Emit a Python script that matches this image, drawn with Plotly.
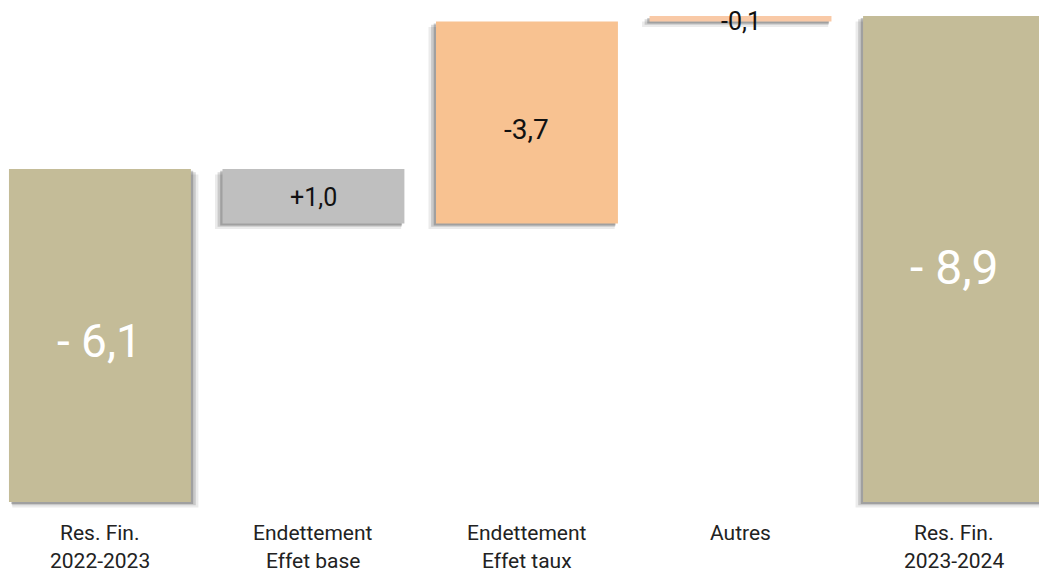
import plotly.graph_objects as go

categories_line1 = ["Res. Fin.", "Endettement", "Endettement", "Autres", "Res. Fin."]
categories_line2 = ["2022-2023", "Effet base", "Effet taux", "", "2023-2024"]
values = [-6.1, 1.0, -3.7, -0.1, -8.9]
kinds = ["total", "relative", "relative", "relative", "total"]
value_labels = ["- 6,1", "+1,0", "-3,7", "-0,1", "- 8,9"]

colors = ["#C4BC98", "#BFBFBF", "#F8C291", "#F9C9A6", "#C4BC98"]
label_colors = ["white", "#111111", "#111111", "#111111", "white"]
label_sizes = [46, 25, 28, 25, 48]
label_shift = [-6, -1, -7, -3, -8]

# compute bases / heights from the data
bases, heights = [], []
cum = 0.0
for v, k in zip(values, kinds):
    if k == "total":
        bases.append(0.0)
        cum = v
    else:
        bases.append(cum)
        cum = cum + v
    heights.append(v)

x = list(range(len(values)))
W = 0.852
FONT = "Roboto"
TICKFONT = "Roboto"

fig = go.Figure()

# soft drop shadows
shadow_dx = [0.018 if i == 0 else -0.018 for i in x]
for dy, dx_scale, alpha, extra in [(0.10, 1.4, 0.08, 0.02), (0.06, 1.0, 0.14, 0.01), (0.035, 0.6, 0.20, 0.0)]:
    fig.add_trace(go.Bar(
        x=x, y=heights, base=[b + dy for b in bases],
        width=W + extra,
        offset=[-(W + extra) / 2 + d * dx_scale for d in shadow_dx],
        marker=dict(color=f"rgba(0,0,0,{alpha})", line=dict(width=0)),
        hoverinfo="skip", showlegend=False,
    ))

fig.add_trace(go.Bar(
    x=x, y=heights, base=bases, width=W,
    marker=dict(color=colors, line=dict(width=0)),
    hoverinfo="skip", showlegend=False,
))

for i in x:
    mid = bases[i] + heights[i] / 2
    fig.add_annotation(x=i, y=mid, text=value_labels[i], showarrow=False,
                       font=dict(family=FONT, size=label_sizes[i], color=label_colors[i]),
                       xanchor="center", yanchor="middle", yshift=label_shift[i])
    fig.add_annotation(x=i, y=0, xref="x", yref="paper", yanchor="middle", yshift=-21,
                       text=categories_line1[i], showarrow=False,
                       font=dict(family=TICKFONT, size=21, color="#222222"))
    if categories_line2[i]:
        fig.add_annotation(x=i, y=0, xref="x", yref="paper", yanchor="middle", yshift=-49,
                           text=categories_line2[i], showarrow=False,
                           font=dict(family=TICKFONT, size=21, color="#222222"))

PX = 54.6
fig.update_layout(
    width=1039, height=574,
    margin=dict(l=0, r=0, t=0, b=62),
    paper_bgcolor="white", plot_bgcolor="white",
    barmode="overlay",
    xaxis=dict(range=[-0.468, 4.398], showticklabels=False, showgrid=False, zeroline=False, showline=False),
    yaxis=dict(range=[10 / PX, -502 / PX], showticklabels=False, showgrid=False, zeroline=False, showline=False),
)

fig.write_html("out.html", config={"displayModeBar": False},
               post_script="document.body.style.margin='0px';document.body.style.overflow='hidden';")
